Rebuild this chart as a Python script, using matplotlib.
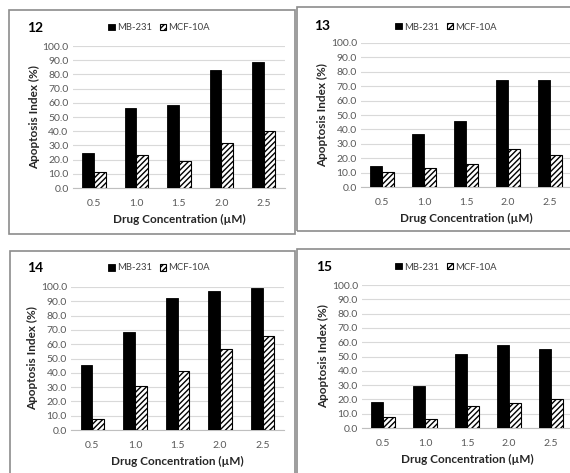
import numpy as np
import matplotlib
matplotlib.use('Agg')
import matplotlib.pyplot as plt
from matplotlib.patches import Rectangle

plt.rcParams['font.family'] = ['Lato', 'DejaVu Sans']
plt.rcParams['hatch.linewidth'] = 1.0

# Data
concentrations = ['0.5', '1.0', '1.5', '2.0', '2.5']
series_names = ['MB-231', 'MCF-10A']
panel_names = ['12', '13', '14', '15']

mb231_12 = [25.0, 56.0, 58.5, 83.0, 88.5]
mcf10a_12 = [11.0, 23.0, 19.0, 31.5, 40.0]
mb231_13 = [14.5, 36.5, 46.0, 74.0, 74.0]
mcf10a_13 = [10.5, 13.0, 16.0, 26.5, 22.5]
mb231_14 = [45.5, 68.5, 92.5, 97.5, 99.0]
mcf10a_14 = [8.0, 31.0, 41.5, 56.5, 66.0]
mb231_15 = [18.0, 29.5, 52.0, 58.0, 55.0]
mcf10a_15 = [8.0, 6.5, 15.5, 17.5, 20.5]

W, H = 570, 473
fig = plt.figure(figsize=(W / 100, H / 100), dpi=100)


def px_rect(x0, y0, x1, y1):
    # pixel box (top-left origin) -> figure fraction [l, b, w, h]
    return [x0 / W, 1 - y1 / H, (x1 - x0) / W, (y1 - y0) / H]


# Panel frames
frames = [(9, 10, 295, 234), (297, 7, 572, 231), (10, 251, 295, 476), (297, 249, 572, 476)]
for x0, y0, x1, y1 in frames:
    l, b, w, h = px_rect(x0, y0, x1, y1)
    fig.patches.append(Rectangle((l, b), w, h, transform=fig.transFigure,
                                 fill=False, edgecolor='#8c8c8c', linewidth=1.2))

# axes boxes in pixels: left, top(100), right, bottom(0)
axes_px = [(72.7, 46, 285, 188), (361, 43, 571, 187), (71, 287, 284, 430), (362, 285, 572, 428)]
# panel number, legend positions in pixels
number_px = [(27, 28), (314, 26), (27, 268), (316, 267)]
legend_px = [(159, 28), (446, 27), (159, 268), (446, 267)]

data = [(mb231_12, mcf10a_12), (mb231_13, mcf10a_13),
        (mb231_14, mcf10a_14), (mb231_15, mcf10a_15)]

x = np.arange(len(concentrations))
bw = 0.275

for i, (mb, mcf) in enumerate(data):
    x0, y0, x1, y1 = axes_px[i]
    ax = fig.add_axes(px_rect(x0, y0, x1, y1))
    b1 = ax.bar(x - bw / 2, mb, bw, color='black', edgecolor='black', linewidth=0.6,
                label=series_names[0], zorder=3)
    b2 = ax.bar(x + bw / 2, mcf, bw, color='white', edgecolor='black', hatch='//////',
                linewidth=0.8, label=series_names[1], zorder=3)
    ax.set_xlim(-0.5, len(concentrations) - 0.5)
    ax.set_ylim(0, 100)
    ax.set_yticks(np.arange(0, 101, 10))
    ax.set_yticklabels(['%.1f' % v for v in np.arange(0, 101, 10)])
    ax.set_xticks(x)
    ax.set_xticklabels(concentrations)
    ax.grid(axis='y', color='#d9d9d9', linewidth=0.8, zorder=0)
    for s in ['top', 'right', 'left']:
        ax.spines[s].set_visible(False)
    ax.spines['bottom'].set_color('#bfbfbf')
    ax.tick_params(axis='both', length=0, labelsize=7.5, colors='#595959', pad=3)
    ax.tick_params(axis='x', pad=8)
    ax.set_ylabel('Apoptosis Index (%)', fontsize=8.5, fontweight='bold', color='#262626', labelpad=2)
    ax.set_xlabel('Drug Concentration (µM)', fontsize=8.5, fontweight='bold', color='#262626', labelpad=4)

    nx, ny = number_px[i]
    fig.text(nx / W, 1 - ny / H, panel_names[i], fontsize=10, fontweight='bold',
             ha='left', va='center', color='black')
    lx, ly = legend_px[i]
    fig.legend(handles=[b1, b2], loc='center', bbox_to_anchor=(lx / W, 1 - ly / H),
               ncol=2, frameon=False, fontsize=6.8, handlelength=0.7, handleheight=0.7,
               handletextpad=0.2, columnspacing=0.8, borderpad=0, labelcolor='#404040')

plt.savefig('out.png', dpi=100)
